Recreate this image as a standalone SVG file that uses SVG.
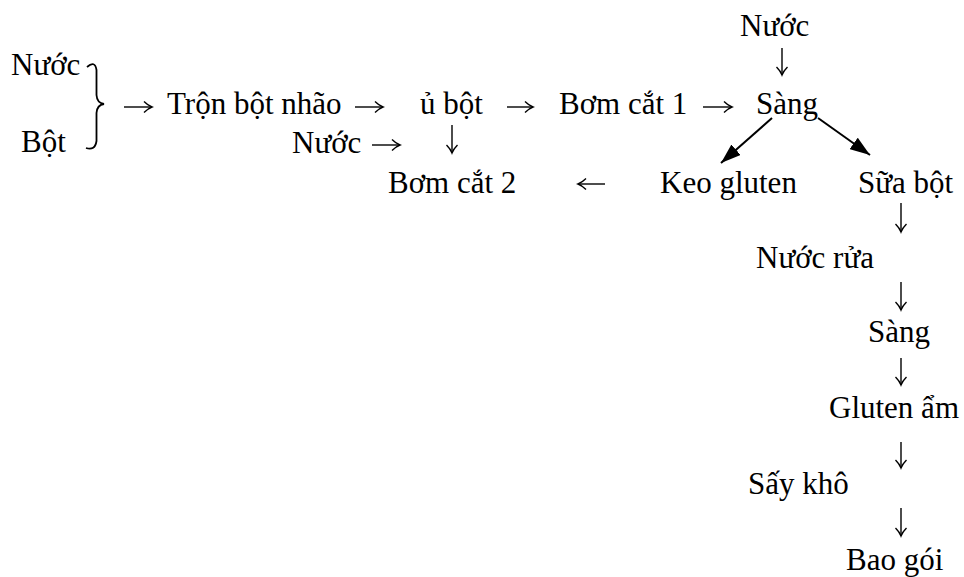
<svg xmlns="http://www.w3.org/2000/svg" width="964" height="577" viewBox="0 0 964 577">
  <style>
    text { font-family: "Liberation Serif", "Times New Roman", serif; font-size: 31px; fill: #000; }
    .flow { stroke: #000; stroke-width: 1.4; fill: none; }
    .edge { stroke: #000; stroke-width: 2; fill: none; }
  </style>
  <defs>
    <!-- thin typographic arrowhead -->
    <marker id="open" viewBox="-10 -6 12 12" refX="0" refY="0" markerWidth="12" markerHeight="12" markerUnits="userSpaceOnUse" orient="auto">
      <path d="M-8,-5.5 Q-4,-1.5 0,0 Q-4,1.5 -8,5.5" fill="none" stroke="#000" stroke-width="1.4"/>
    </marker>
    <!-- solid arrowhead for the split after screening -->
    <marker id="tri" viewBox="0 0 20 14" refX="20" refY="7" markerWidth="20" markerHeight="14" markerUnits="userSpaceOnUse" orient="auto">
      <path d="M0,0 L20,7 L0,14 Z" fill="#000"/>
    </marker>
  </defs>
  <rect width="964" height="577" fill="#fff"/>

  <!-- inputs -->
  <g id="n-nuoc-1"><text x="11" y="75">Nước</text></g>
  <g id="n-bot"><text x="21" y="152">Bột</text></g>
  <g id="brace">
    <path d="M87,67 Q95,60 96.5,70 L96.5,95 Q97,103 104,104 Q97,105 96.5,113 L96.5,141 Q95,151 86,148" fill="none" stroke="#000" stroke-width="1.8"/>
  </g>

  <!-- main row -->
  <g id="n-tron"><text x="167" y="114">Trộn bột nhão</text></g>
  <g id="n-u"><text x="420" y="114">ủ bột</text></g>
  <g id="n-bom1"><text x="559" y="114">Bơm cắt 1</text></g>
  <g id="n-nuoc-top"><text x="740" y="36">Nước</text></g>
  <g id="n-sang1"><text x="756" y="114">Sàng</text></g>
  <g id="n-nuoc-2"><text x="292" y="153">Nước</text></g>

  <!-- second row -->
  <g id="n-bom2"><text x="388" y="193">Bơm cắt 2</text></g>
  <g id="n-keo"><text x="660" y="193">Keo gluten</text></g>
  <g id="n-sua"><text x="858" y="193">Sữa bột</text></g>

  <!-- right column -->
  <g id="n-nuocrua"><text x="756" y="268">Nước rửa</text></g>
  <g id="n-sang2"><text x="868" y="342">Sàng</text></g>
  <g id="n-gluten"><text x="829" y="418">Gluten ẩm</text></g>
  <g id="n-say"><text x="748" y="494">Sấy khô</text></g>
  <g id="n-bao"><text x="846" y="570">Bao gói</text></g>

  <!-- connectors -->
  <g id="connectors">
    <line class="flow" x1="124" y1="107" x2="152" y2="107" marker-end="url(#open)"/>
    <line class="flow" x1="355" y1="107" x2="383" y2="107" marker-end="url(#open)"/>
    <line class="flow" x1="507" y1="107" x2="533" y2="107" marker-end="url(#open)"/>
    <line class="flow" x1="703" y1="107" x2="732" y2="107" marker-end="url(#open)"/>
    <line class="flow" x1="782" y1="48" x2="782" y2="75" marker-end="url(#open)"/>
    <line class="flow" x1="372" y1="145" x2="400" y2="145" marker-end="url(#open)"/>
    <line class="flow" x1="452" y1="125" x2="452" y2="153" marker-end="url(#open)"/>
    <line class="flow" x1="605" y1="184" x2="578" y2="184" marker-end="url(#open)"/>
    <line class="flow" x1="901" y1="203" x2="901" y2="232" marker-end="url(#open)"/>
    <line class="flow" x1="901" y1="282" x2="901" y2="310" marker-end="url(#open)"/>
    <line class="flow" x1="901" y1="358" x2="901" y2="385" marker-end="url(#open)"/>
    <line class="flow" x1="901" y1="442" x2="901" y2="468" marker-end="url(#open)"/>
    <line class="flow" x1="901" y1="508" x2="901" y2="536" marker-end="url(#open)"/>
    <line class="edge" x1="772" y1="118" x2="721" y2="163" marker-end="url(#tri)"/>
    <line class="edge" x1="818" y1="118" x2="870" y2="155" marker-end="url(#tri)"/>
  </g>
</svg>
